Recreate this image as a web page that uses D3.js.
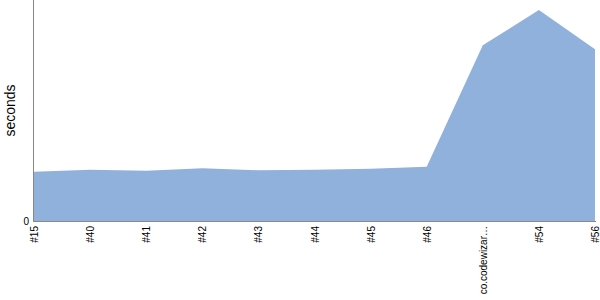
<!DOCTYPE html>
<html>
<head>
<meta charset="utf-8">
<style>
  body { margin: 0; background: #fff; }
  svg text { font-family: "Liberation Sans", Arial, sans-serif; }
  .axis path { stroke: #888; }
  .axis line { display: none; }
</style>
</head>
<body>
<div id="chart"></div>
<script src="https://d3js.org/d3.v7.min.js"></script>
<script>
var builds = ["#15", "#40", "#41", "#42", "#43", "#44", "#45", "#46", "co.codewizar\u2026", "#54", "#56"];
var seconds = [0.98, 1.02, 1.00, 1.05, 1.01, 1.02, 1.04, 1.08, 3.50, 4.20, 3.42];
var yTicks = [0];

var width = 600, height = 300;
var margin = {top: 0, right: 5, bottom: 79, left: 33};
var innerW = width - margin.left - margin.right;
var innerH = height - margin.top - margin.bottom;

var svg = d3.select("#chart").append("svg")
  .attr("width", width).attr("height", height);
var g = svg.append("g").attr("transform", "translate(" + margin.left + "," + margin.top + ")");

var x = d3.scalePoint().domain(d3.range(builds.length)).range([1, innerW]);
var y = d3.scaleLinear().domain([0, 4.4]).range([innerH, 0]);

var area = d3.area()
  .x(function(d, i) { return x(i); })
  .y0(innerH)
  .y1(function(d) { return y(d); });

g.append("path")
  .datum(seconds)
  .attr("fill", "#8fb1db")
  .attr("d", area);

var xAxis = g.append("g")
  .attr("class", "axis")
  .attr("transform", "translate(0," + innerH + ")")
  .call(d3.axisBottom(x).tickSize(0).tickSizeOuter(0).tickFormat(function(i) { return builds[i]; }));
xAxis.select(".domain").attr("d", "M0,0.5H" + (innerW + 1));
xAxis.selectAll("text")
  .attr("font-size", "10px")
  .attr("fill", "#000")
  .attr("transform", "rotate(-90)")
  .attr("text-anchor", "end")
  .attr("x", -5)
  .attr("y", 0)
  .attr("dy", "0.35em");

var yAxis = g.append("g")
  .attr("class", "axis")
  .call(d3.axisLeft(y).tickValues(yTicks).tickFormat(d3.format("d")).tickSize(0).tickSizeOuter(0).tickPadding(4));
yAxis.select(".domain").attr("d", "M0.5," + innerH + "V0");
yAxis.selectAll("text").attr("font-size", "10px").attr("fill", "#000");

svg.append("text")
  .attr("transform", "translate(15," + (innerH / 2) + ") rotate(-90)")
  .attr("text-anchor", "middle")
  .attr("font-size", "14px")
  .text("seconds");
</script>
</body>
</html>
